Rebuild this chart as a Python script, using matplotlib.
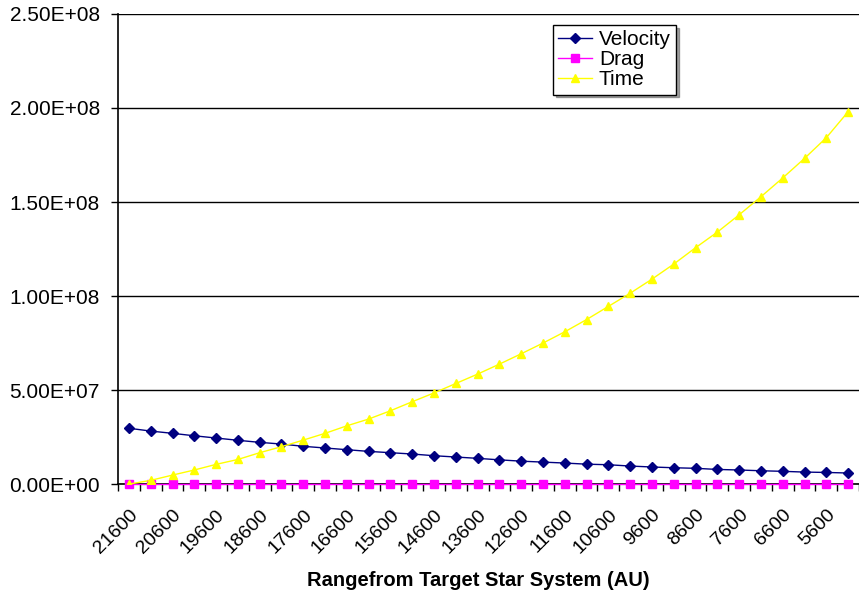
import numpy as np
import matplotlib
matplotlib.use('Agg')
import matplotlib.pyplot as plt

plt.rcParams['font.family'] = ['Liberation Sans', 'DejaVu Sans']

# range from target star system (AU), one point every 500 AU
ranges = list(range(21600, 5099, -500))

# values, in millions
velocity = [29.7, 28.2, 27.0, 25.7, 24.5, 23.3, 22.2, 21.3, 20.1, 19.2,
            18.3, 17.4, 16.7, 16.0, 15.1, 14.4, 13.7, 12.9, 12.2, 11.7,
            11.2, 10.6, 10.3, 9.6, 9.1, 8.7, 8.4, 7.8, 7.5, 7.1,
            6.8, 6.4, 6.2, 5.9]
drag = [0.0] * 34
time = [0.0, 2.0, 4.8, 7.5, 10.5, 13.1, 16.7, 19.9, 23.4, 27.0,
        31.0, 34.6, 39.0, 43.8, 48.5, 53.5, 58.5, 63.8, 69.3, 75.0,
        81.0, 87.5, 94.5, 101.5, 109.0, 117.0, 125.7, 134.0, 143.2, 152.8,
        162.8, 173.2, 184.2, 198.0]

yticks = [0, 5e7, 1e8, 1.5e8, 2e8, 2.5e8]
ytick_labels = ['0.00E+00', '5.00E+07', '1.00E+08', '1.50E+08', '2.00E+08', '2.50E+08']

fig = plt.figure(figsize=(8.59, 5.94), dpi=100)
ax = fig.add_axes([0.1374, 0.185, 0.8626, 0.7915])

x = np.arange(len(ranges))
v = np.array(velocity) * 1e6
d = np.array(drag) * 1e6
t = np.array(time) * 1e6

ax.plot(x, v, color='#000080', lw=1, marker='D', ms=5, label='Velocity', zorder=3)
ax.plot(x, d, color='#FF00FF', lw=1, marker='s', ms=6, label='Drag', zorder=4, clip_on=False)
ax.plot(x, t, color='#FFFF00', lw=1, marker='^', ms=6, label='Time', zorder=5)

ax.set_xlim(-0.5, len(ranges) - 0.5)
ax.set_ylim(0, 2.5e8)
ax.set_yticks(yticks)
ax.set_yticklabels(ytick_labels, fontsize=15)
ax.yaxis.grid(True, color='black', lw=1)
ax.set_axisbelow(True)

# category boundaries as ticks, labels on every other point
ax.set_xticks(np.arange(-0.5, len(ranges), 1.0), minor=True)
ax.set_xticks(x[::2])
ax.set_xticklabels([str(r) for r in ranges[::2]], rotation=45, ha='right',
                   rotation_mode='anchor', fontsize=14)
ax.tick_params(axis='x', which='major', length=0, pad=16)
ax.tick_params(axis='x', which='minor', length=5, width=1, direction='out')
ax.tick_params(axis='y', length=5, width=1, direction='out', pad=8)

for s in ['top', 'right']:
    ax.spines[s].set_visible(False)
ax.spines['left'].set_linewidth(1.2)
ax.spines['bottom'].set_linewidth(1.2)

ax.set_xlabel('Rangefrom Target Star System (AU)', fontsize=14.5, fontweight='bold')
ax.xaxis.set_label_coords(0.486, -0.204)
ax.xaxis.label.set_va('center')

leg = ax.legend(loc='upper left', bbox_to_anchor=(553 / 859, 1 - 25 / 594),
                bbox_transform=fig.transFigure, fontsize=15, frameon=True,
                fancybox=False, shadow=True, borderpad=0.25, labelspacing=0.05,
                handlelength=1.6, handletextpad=0.35, borderaxespad=0)
leg.get_frame().set_edgecolor('black')
leg.get_frame().set_linewidth(1)

plt.savefig('out.png', dpi=100)
